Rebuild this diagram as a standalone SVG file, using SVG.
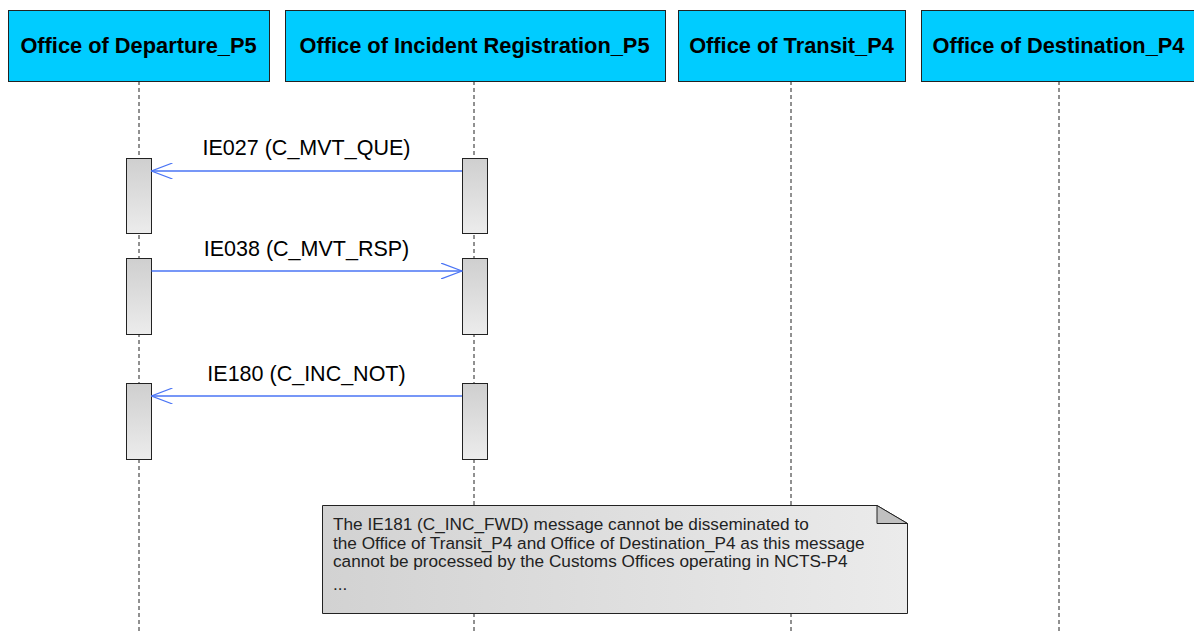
<svg xmlns="http://www.w3.org/2000/svg" width="1194" height="631" viewBox="0 0 1194 631">
<defs>
<linearGradient id="gAct" x1="0" y1="0" x2="0" y2="1">
<stop offset="0" stop-color="#cfcfcf"/><stop offset="1" stop-color="#ececec"/>
</linearGradient>
<linearGradient id="gNote" x1="0" y1="0" x2="1" y2="0">
<stop offset="0" stop-color="#d2d2d2"/><stop offset="1" stop-color="#ebebeb"/>
</linearGradient>
<marker id="open" viewBox="0 0 22 16" refX="21" refY="8" markerWidth="22" markerHeight="16" markerUnits="userSpaceOnUse" orient="auto">
<path d="M0,0 L21,8 L0,16" fill="none" stroke="#4a74f5" stroke-width="1.2"/>
</marker>
<style>
.hdr{fill:#00ccff;stroke:#222;stroke-width:1}
.ht{font-family:"Liberation Sans",Arial,sans-serif;font-weight:bold;font-size:21.8px;fill:#000;text-anchor:middle}
.life{stroke:#222;stroke-width:1;stroke-dasharray:4,3;fill:none}
.act{fill:url(#gAct);stroke:#222;stroke-width:1}
.msg{stroke:#4a74f5;stroke-width:1.3;fill:none;marker-end:url(#open)}
.lbl{font-family:"Liberation Sans",Arial,sans-serif;font-size:21.5px;fill:#000;text-anchor:middle}
.nt{font-family:"Liberation Sans",Arial,sans-serif;font-size:17.2px;fill:#222}
</style>
</defs>
<rect width="1194" height="631" fill="#fff"/>
<g id="lifelines">
<line class="life" x1="139" y1="81" x2="139" y2="631"/>
<line class="life" x1="474" y1="81" x2="474" y2="631"/>
<line class="life" x1="791" y1="81" x2="791" y2="631"/>
<line class="life" x1="1059" y1="81" x2="1059" y2="631"/>
</g>
<g id="departure">
<rect class="hdr" x="8.5" y="10.5" width="261" height="71"/>
<text class="ht" x="138.5" y="53">Office of Departure_P5</text>
</g>
<g id="incident">
<rect class="hdr" x="285.5" y="10.5" width="380" height="71"/>
<text class="ht" x="474.5" y="53">Office of Incident Registration_P5</text>
</g>
<g id="transit">
<rect class="hdr" x="678.5" y="10.5" width="227" height="71"/>
<text class="ht" x="791.5" y="53">Office of Transit_P4</text>
</g>
<g id="destination">
<rect class="hdr" x="921.5" y="10.5" width="276" height="71"/>
<text class="ht" x="1058.5" y="53">Office of Destination_P4</text>
</g>
<g id="activations">
<rect class="act" x="126.5" y="158.5" width="25" height="75"/>
<rect class="act" x="462.5" y="158.5" width="25" height="75"/>
<rect class="act" x="126.5" y="258.5" width="25" height="76"/>
<rect class="act" x="462.5" y="258.5" width="25" height="76"/>
<rect class="act" x="126.5" y="383.5" width="25" height="76"/>
<rect class="act" x="462.5" y="383.5" width="25" height="76"/>
</g>
<g id="connectors">
<line class="msg" x1="462" y1="171" x2="151.5" y2="171"/>
<line class="msg" x1="151.5" y1="271" x2="462" y2="271"/>
<line class="msg" x1="462" y1="396" x2="151.5" y2="396"/>
<text class="lbl" x="306.5" y="155">IE027 (C_MVT_QUE)</text>
<text class="lbl" x="306.5" y="256">IE038 (C_MVT_RSP)</text>
<text class="lbl" x="306.5" y="381">IE180 (C_INC_NOT)</text>
</g>
<g id="note">
<path d="M322.5,505.5 L877,505.5 L907.5,523.5 L907.5,613.5 L322.5,613.5 Z" fill="url(#gNote)" stroke="#222" stroke-width="1"/>
<path d="M877,505.5 L877,523.5 L907.5,523.5 Z" fill="#c0c0c0" stroke="#222" stroke-width="1"/>
<text class="nt" x="333" y="530">The IE181 (C_INC_FWD) message cannot be disseminated to</text>
<text class="nt" x="333" y="548.5">the Office of Transit_P4 and Office of Destination_P4 as this message</text>
<text class="nt" x="333" y="567">cannot be processed by the Customs Offices operating in NCTS-P4</text>
<text class="nt" x="333" y="590">...</text>
</g>
</svg>
